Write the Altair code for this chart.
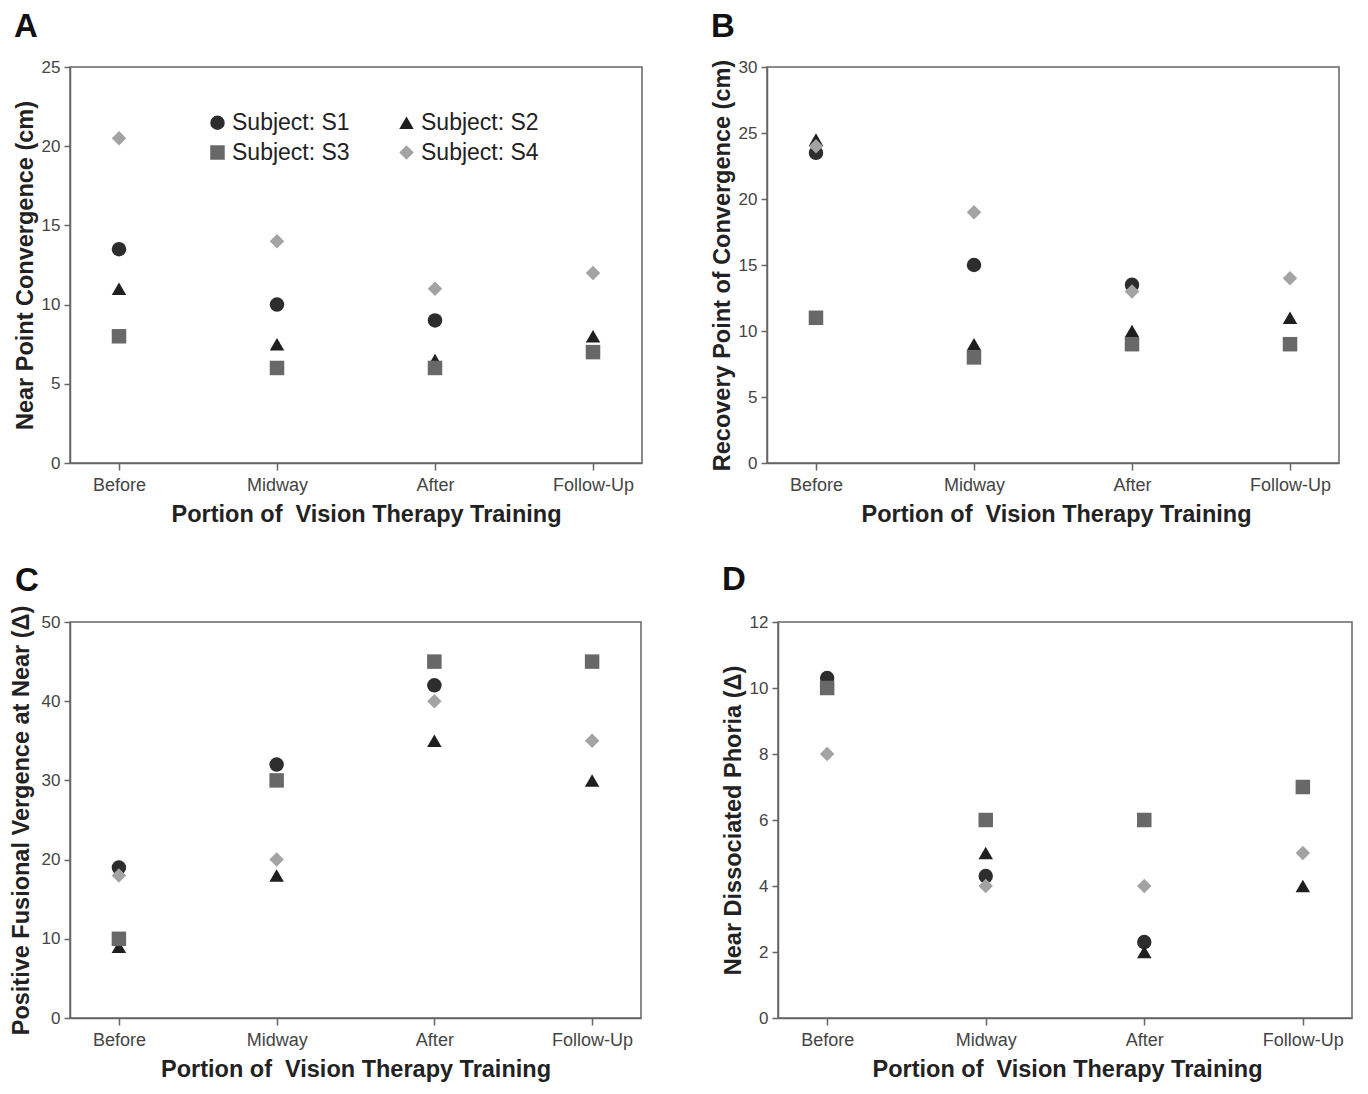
import altair as alt
import pandas as pd

FONT = "Liberation Sans"

stages = ["Before", "Midway", "After", "Follow-Up"]
subjects = ["Subject: S1", "Subject: S2", "Subject: S3", "Subject: S4"]
shapes = ["circle", "triangle-up", "square", "diamond"]
colors = ["#2d2d2d", "#1f1f1f", "#686868", "#a3a3a3"]

xtitle = "Portion of\u00a0 Vision Therapy Training"

# Panel A: Near Point Convergence (cm)
a_s1 = [13.5, 10.0, 9.0, None]
a_s2 = [11.0, 7.5, 6.5, 8.0]
a_s3 = [8.0, 6.0, 6.0, 7.0]
a_s4 = [20.5, 14.0, 11.0, 12.0]

# Panel B: Recovery Point of Convergence (cm)
b_s1 = [23.5, 15.0, 13.5, None]
b_s2 = [24.5, 9.0, 10.0, 11.0]
b_s3 = [11.0, 8.0, 9.0, 9.0]
b_s4 = [24.0, 19.0, 13.0, 14.0]

# Panel C: Positive Fusional Vergence at Near
c_s1 = [19.0, 32.0, 42.0, None]
c_s2 = [9.0, 18.0, 35.0, 30.0]
c_s3 = [10.0, 30.0, 45.0, 45.0]
c_s4 = [18.0, 20.0, 40.0, 35.0]

# Panel D: Near Dissociated Phoria
d_s1 = [10.3, 4.3, 2.3, None]
d_s2 = [None, 5.0, 2.0, 4.0]
d_s3 = [10.0, 6.0, 6.0, 7.0]
d_s4 = [8.0, 4.0, 4.0, 5.0]


def frame(series_list):
    rows = []
    for subj, series in zip(subjects, series_list):
        for st, v in zip(stages, series):
            if v is not None:
                rows.append({"stage": st, "subject": subj, "value": v})
    return pd.DataFrame(rows)


def panel(df, letter, ytitle, ymax, ystep, width, height, show_legend=False,
          dx=-56, offset=16, ytitle_pad=4, xtitle_shift=0):
    if show_legend:
        legend = alt.Legend(
            title=None, orient="none", legendX=136, legendY=44, columns=2,
            direction="horizontal",
            columnPadding=45, rowPadding=6, labelFontSize=23, labelFont=FONT,
            labelColor="#222", symbolSize=210, symbolStrokeWidth=0, labelOffset=3,
        )
    else:
        legend = None
    ticks = list(range(0, ymax + 1, ystep))
    return alt.Chart(df).mark_point(filled=True, size=210, opacity=1).encode(
        x=alt.X("stage:N", sort=stages,
                scale=alt.Scale(type="point", padding=0.31, domain=stages),
                axis=alt.Axis(title=xtitle, labelAngle=0, tickSize=7, labelPadding=6,
                              titlePadding=8, titleX=width / 2 + xtitle_shift)),
        y=alt.Y("value:Q", scale=alt.Scale(domain=[0, ymax], nice=False),
                axis=alt.Axis(title=ytitle, values=ticks, grid=False, tickSize=6,
                              labelPadding=4, titlePadding=ytitle_pad)),
        color=alt.Color("subject:N", scale=alt.Scale(domain=subjects, range=colors), legend=legend),
        shape=alt.Shape("subject:N", scale=alt.Scale(domain=subjects, range=shapes), legend=legend),
        order=alt.Order("subject:N"),
    ).properties(
        width=width, height=height,
        title=alt.TitleParams(text=letter, anchor="start", frame="group", dx=dx, offset=offset,
                              fontSize=33, fontWeight="bold", font=FONT, color="#111"),
    )


pa = panel(frame([a_s1, a_s2, a_s3, a_s4]), "A", "Near Point Convergence (cm)", 25, 5, 572, 396,
           show_legend=True, offset=14, xtitle_shift=10)
pb = panel(frame([b_s1, b_s2, b_s3, b_s4]), "B", "Recovery Point of Convergence (cm)", 30, 5, 572, 396,
           offset=14, xtitle_shift=3)
pc = panel(frame([c_s1, c_s2, c_s3, c_s4]), "C", "Positive Fusional Vergence at Near (\u0394)", 50, 10, 571, 396,
           ytitle_pad=8, offset=7, dx=-55)
pd_ = panel(frame([d_s1, d_s2, d_s3, d_s4]), "D", "Near Dissociated Phoria (\u0394)", 12, 2, 574, 396,
            offset=16, xtitle_shift=2)

row1 = alt.hconcat(pa, pb, spacing=66).resolve_scale(color="independent", shape="independent")
row2 = alt.hconcat(pc, pd_, spacing=78).resolve_scale(color="independent", shape="independent")

chart = alt.vconcat(row1, row2, spacing=36).resolve_scale(
    color="independent", shape="independent"
).properties(padding={"left": 0, "top": 2, "right": 0, "bottom": 0}).configure(
    font=FONT,
).configure_view(
    stroke="#666", strokeWidth=1.5,
).configure_axis(
    domainColor="#666", domainWidth=1.5, tickColor="#666", tickWidth=1.5,
    labelFont=FONT, labelFontSize=18, labelColor="#444",
    titleFont=FONT, titleFontSize=23.5, titleFontWeight="bold", titleColor="#222",
).configure_axisY(labelFontSize=17)

chart.save("out.html", embed_options={"renderer": "svg", "actions": False})
